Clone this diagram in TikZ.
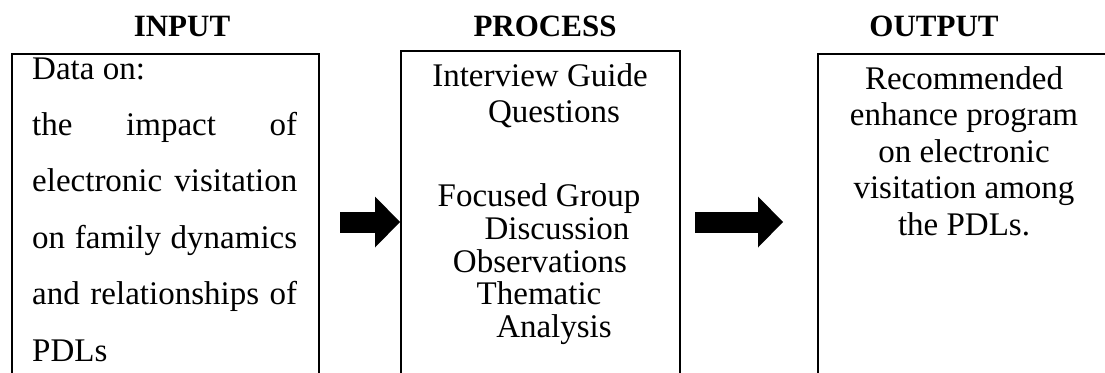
\documentclass[tikz,border=0pt]{standalone}
\usepackage{fontspec}
\setmainfont{Liberation Serif}
\usetikzlibrary{arrows.meta}
\newcommand\bodyfont{\fontsize{33}{36}\selectfont}
\newcommand\headfont{\fontsize{31}{34}\selectfont\bfseries}

\begin{document}
\begin{tikzpicture}[x=1pt,y=-1pt,
  box/.style={draw,line width=1.6pt,rectangle,anchor=north west,inner sep=0pt},
  head/.style={font=\headfont,anchor=base,inner sep=0pt},
  txt/.style={font=\bodyfont,anchor=base,inner sep=0pt},
  flow/.style={line width=21pt,-{Triangle[length=25pt 0 0,width=51pt 0 0,line width=0pt 0 0]}}]
\clip (0,0) rectangle (1105,372);
% headings
\node[head] (hin) at (182,36.5) {INPUT};
\node[head] (hproc) at (545,36.5) {PROCESS};
\node[head] (hout) at (934,36.5) {OUTPUT};
% boxes, cut off at the bottom
\node[box,minimum width=307pt,minimum height=360pt] (inbox) at (11,53) {};
\node[box,minimum width=279pt,minimum height=363pt] (procbox) at (400,50) {};
\node[box,minimum width=294pt,minimum height=360pt] (outbox) at (817,53) {};
% input text
\node[txt,anchor=base west] (in1) at (32,79) {Data on:};
\foreach \y/\t [count=\i from 2] in {135.4/{the\hfill impact\hfill of},
    191.8/{electronic\hfill visitation},248.2/{on\hfill family\hfill dynamics},
    304.6/{and\hfill relationships\hfill of}}
  \node[txt,anchor=base west] (in\i) at (32,\y) {\makebox[265pt][s]{\t}};
\node[txt,anchor=base west] (in6) at (32,361) {PDLs};
% process text
\foreach \x/\y/\t [count=\i] in {540/86/Interview Guide,554/122/Questions,
    539/206/Focused Group,557/239/Discussion,540/272/Observations,
    539/304/Thematic,554/337/Analysis}
  \node[txt] (pr\i) at (\x,\y) {\t};
% output text
\foreach \y/\t [count=\i] in {89/Recommended,125.5/enhance program,
    162/on electronic,198.5/visitation among,235/the PDLs.}
  \node[txt] (out\i) at (964,\y) {\t};
% arrows
\coordinate (a1) at (340,222);
\coordinate (a2) at (695,222);
\coordinate (a2e) at (783,222);
\draw[flow] (a1) -- (a1 -| procbox.west);
\draw[flow] (a2) -- (a2e);
\end{tikzpicture}
\end{document}
